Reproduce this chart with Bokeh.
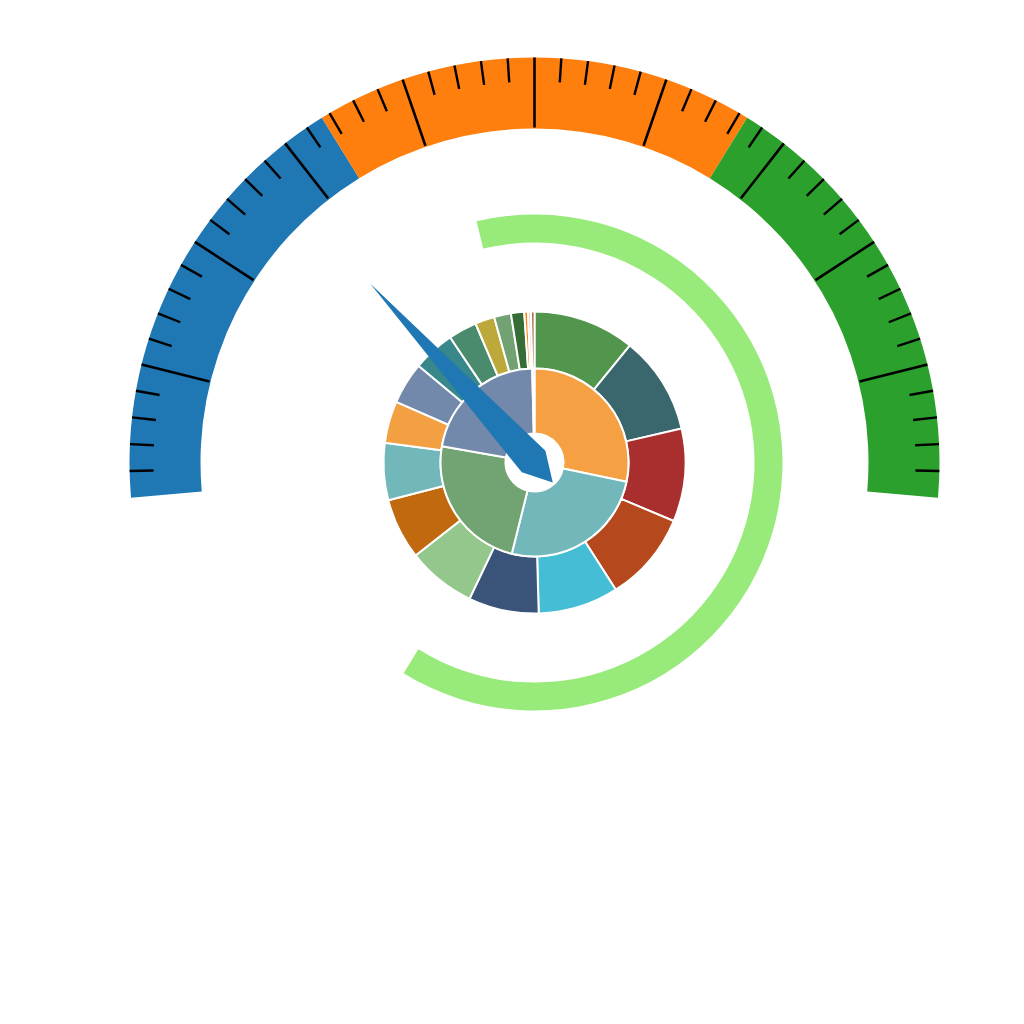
import numpy as np
from bokeh.plotting import figure
from bokeh.models import Range1d
from bokeh.embed import file_html
from bokeh.resources import INLINE

# ---------------- data ----------------
gauge_min, gauge_max = 0, 100
gauge_value = 27.6
band_limits = [0, 33.33, 66.67, 100]
band_colors = ["#1f77b4", "#ff7f0e", "#2ca02c"]
major_splits = 10
minor_splits = 5

progress_percent = 62.6          # light green ring, share of a full circle
progress_color = "#98eb7a"

inner_values = [101.8, 92.2, 86.0, 78.6, 1.4]
inner_colors = ["#f4a043", "#72b7ba", "#72a372", "#7389ab", "#c9e3bd"]

outer_values = [39.2, 37.8, 35.8, 34.6, 31.0, 27.1, 26.5, 23.5, 22.0, 16.2,
                16.1, 16.2, 11.0, 7.5, 6.5, 5.1, 1.4, 1.2, 1.3]
outer_colors = ["#51964c", "#3a666d", "#a92f2f", "#b5481d", "#45bdd4", "#3a5378",
                "#93c78b", "#c0690e", "#72b7ba", "#f3a043", "#7289ab", "#38878a",
                "#4a8b6d", "#bda83a", "#72a172", "#366d36", "#ff7f0e", "#f3d2c0",
                "#a0522d"]

# ---------------- layout / style ----------------
W = H = 1024
CX, CY = 534, 562
G_START, G_END = 185.0, -5.0          # degrees
G_R_OUT, G_R_IN = 405, 334
MINOR_LEN = 24
PROG_R_IN, PROG_R_OUT = 220, 248
PROG_START = 103.5
RING_HOLE, RING_MID, RING_OUT = 29, 94, 151
NEEDLE_LEN, NEEDLE_HALF, NEEDLE_SIDE_U, NEEDLE_BACK = 243, 16, 1.3, 27


def val_to_deg(v):
    return G_START - (v - gauge_min) / (gauge_max - gauge_min) * (G_START - G_END)


p = figure(width=W, height=H, x_range=Range1d(0, W), y_range=Range1d(0, H),
           output_backend="svg", toolbar_location=None, min_border=0,
           x_axis_location=None, y_axis_location=None)
p.grid.visible = False
p.outline_line_color = None
p.background_fill_color = "white"
p.border_fill_color = "white"

# gauge bands
for lo, hi, c in zip(band_limits[:-1], band_limits[1:], band_colors):
    p.annular_wedge(x=CX, y=CY, inner_radius=G_R_IN, outer_radius=G_R_OUT,
                    start_angle=np.radians(val_to_deg(hi)),
                    end_angle=np.radians(val_to_deg(lo)),
                    fill_color=c, line_color=None)

# ticks
n = major_splits * minor_splits
x0s, y0s, x1s, y1s, ws = [], [], [], [], []
for i in range(1, n):
    v = gauge_min + i / n * (gauge_max - gauge_min)
    a = np.radians(val_to_deg(v))
    major = (i % minor_splits == 0)
    r_in = G_R_IN + 1 if major else G_R_OUT - MINOR_LEN
    x0s.append(CX + G_R_OUT * np.cos(a)); y0s.append(CY + G_R_OUT * np.sin(a))
    x1s.append(CX + r_in * np.cos(a)); y1s.append(CY + r_in * np.sin(a))
    ws.append(2.6 if major else 2.4)
p.segment(x0=x0s, y0=y0s, x1=x1s, y1=y1s, line_color="black", line_width=ws)

# progress ring
p.annular_wedge(x=CX, y=CY, inner_radius=PROG_R_IN, outer_radius=PROG_R_OUT,
                start_angle=np.radians(PROG_START - progress_percent / 100 * 360),
                end_angle=np.radians(PROG_START),
                fill_color=progress_color, line_color=None)


# nested pie rings
def ring(values, colors, r_in, r_out):
    tot = float(sum(values))
    cum = np.concatenate([[0], np.cumsum(values)]) / tot * 360.0
    starts = np.radians(90 - cum[1:])
    ends = np.radians(90 - cum[:-1])
    p.annular_wedge(x=CX, y=CY, inner_radius=r_in, outer_radius=r_out,
                    start_angle=list(starts), end_angle=list(ends),
                    fill_color=colors, line_color="white", line_width=2)


ring(outer_values, outer_colors, RING_MID, RING_OUT)
ring(inner_values, inner_colors, RING_HOLE, RING_MID)

# needle
a = np.radians(val_to_deg(gauge_value))
d = np.array([np.cos(a), np.sin(a)])
q = np.array([-d[1], d[0]])
pts = [NEEDLE_LEN * d,
       NEEDLE_SIDE_U * d + NEEDLE_HALF * q,
       -NEEDLE_BACK * d,
       NEEDLE_SIDE_U * d - NEEDLE_HALF * q]
p.patch(x=[CX + pt[0] for pt in pts], y=[CY + pt[1] for pt in pts],
        fill_color="#1f77b4", line_color=None)

open("out.html", "w").write(file_html(p, INLINE))
